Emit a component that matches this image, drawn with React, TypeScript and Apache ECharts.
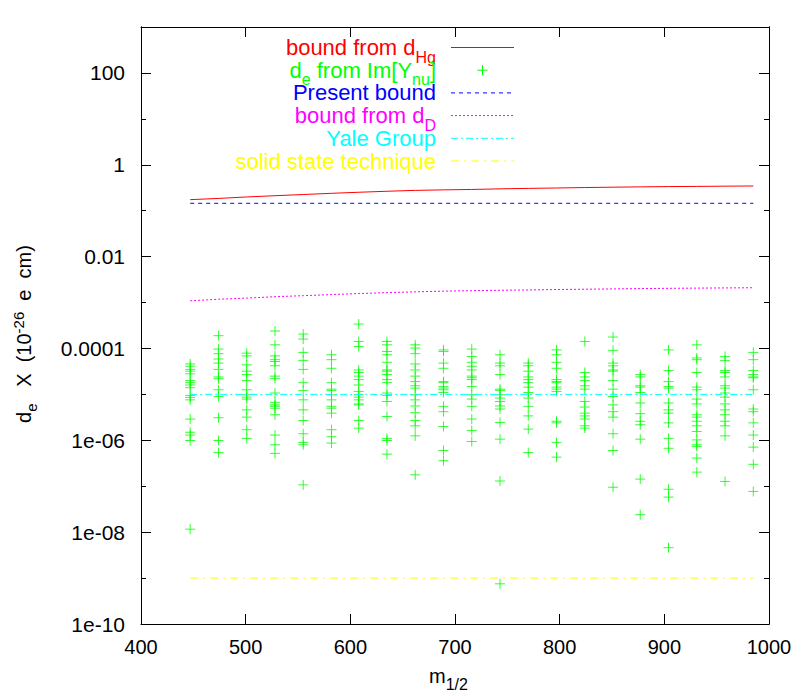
import React, { useEffect, useRef } from "react";
import * as echarts from "echarts";

// ---------- data ----------
const mHalf = [447, 474, 501, 528, 555, 582, 608, 635, 662, 689, 716, 743, 770, 797, 824, 851, 877, 904, 931, 958, 985];

const boundFromDHg = [0.174, 0.185, 0.199, 0.212, 0.225, 0.239, 0.252, 0.265, 0.277, 0.284, 0.29, 0.299, 0.306, 0.312, 0.319, 0.325, 0.33, 0.335, 0.338, 0.342, 0.345];

const boundFromDD = [1.09e-3, 1.18e-3, 1.25e-3, 1.34e-3, 1.41e-3, 1.49e-3, 1.57e-3, 1.64e-3, 1.71e-3, 1.77e-3, 1.81e-3, 1.85e-3, 1.88e-3, 1.92e-3, 1.95e-3, 1.98e-3, 2.01e-3, 2.04e-3, 2.06e-3, 2.08e-3, 2.1e-3];

const presentBound = 0.145;
const yaleGroup = 1e-5;
const solidState = 1e-9;

// d_e from Im[Y_nu], one list per m_1/2 column
const deFromImY: number[][] = [
  [4.6e-5, 4.1e-5, 3.5e-5, 3.2e-5, 2.8e-5, 2.0e-5, 1.8e-5, 1.6e-5, 1.4e-5, 9.5e-6, 8.6e-6, 7.6e-6, 2.9e-6, 1.5e-6, 1.3e-6, 9.9e-7, 1.16e-8],
  [1.9e-4, 9.7e-5, 7.7e-5, 5.9e-5, 4.8e-5, 3.5e-5, 2.4e-5, 2.2e-5, 1.26e-5, 9.0e-6, 3.1e-6, 9.9e-7, 5.4e-7],
  [7.9e-5, 6.9e-5, 4.4e-5, 3.2e-5, 2.7e-5, 2.0e-5, 1.26e-5, 9.8e-6, 8.7e-6, 7.9e-6, 4.6e-6, 3.2e-6, 1.7e-6, 1.1e-6],
  [2.4e-4, 1.2e-4, 6.9e-5, 5.7e-5, 5.2e-5, 4.2e-5, 2.5e-5, 2.2e-5, 1.07e-5, 6.7e-6, 5.9e-6, 5.5e-6, 5.0e-6, 3.6e-6, 1.3e-6, 8.0e-7, 5.2e-7],
  [2.06e-4, 1.6e-4, 8.2e-5, 5.5e-5, 3.5e-5, 1.8e-5, 1.22e-5, 7.6e-6, 4.6e-6, 2.7e-6, 1.39e-6, 9.0e-7, 8.0e-7, 1.07e-7],
  [7.3e-5, 5.7e-5, 3.7e-5, 1.8e-5, 1.3e-5, 1.22e-5, 9.8e-6, 7.6e-6, 5.5e-6, 5.0e-6, 3.9e-6, 1.7e-6, 1.2e-6, 8.7e-7],
  [3.4e-4, 1.42e-4, 1.1e-4, 3.4e-5, 3.0e-5, 2.5e-5, 2.1e-5, 1.6e-5, 1.16e-5, 9.8e-6, 8.7e-6, 7.6e-6, 6.2e-6, 5.9e-6, 2.7e-6, 1.84e-6],
  [1.42e-4, 1.2e-4, 8.6e-5, 7.3e-5, 5.0e-5, 3.4e-5, 3.2e-5, 2.7e-5, 2.1e-5, 1.8e-5, 1.07e-5, 9.5e-6, 7.0e-6, 3.3e-6, 1.1e-6, 9.9e-7, 5.0e-7],
  [1.2e-4, 1.02e-4, 7.7e-5, 4.6e-5, 3.4e-5, 2.5e-5, 1.9e-5, 1.54e-5, 1.37e-5, 9.8e-6, 7.6e-6, 5.6e-6, 4.0e-6, 2.7e-6, 2.07e-6, 1.25e-6, 1.77e-7],
  [9.3e-5, 8.6e-5, 4.8e-5, 3.7e-5, 1.9e-5, 1.8e-5, 1.49e-5, 1.37e-5, 1.26e-5, 1.1e-5, 5.5e-6, 4.2e-6, 2.0e-6, 6.0e-7, 3.6e-7],
  [9.7e-5, 6.7e-5, 5.0e-5, 4.1e-5, 3.4e-5, 2.5e-5, 2.3e-5, 2.1e-5, 1.49e-5, 9.8e-6, 7.9e-6, 5.5e-6, 2.9e-6, 1.64e-6, 9.4e-7],
  [7.3e-5, 4.8e-5, 4.2e-5, 2.7e-5, 1.3e-5, 1.22e-5, 9.8e-6, 8.3e-6, 7.0e-6, 5.6e-6, 4.8e-6, 2.45e-6, 1.06e-6, 1.3e-7, 7.5e-10],
  [4.8e-5, 4.2e-5, 3.2e-5, 2.4e-5, 2.1e-5, 1.8e-5, 1.44e-5, 1.1e-5, 8.3e-6, 5.5e-6, 3.4e-6, 1.75e-6, 5.4e-7],
  [9.3e-5, 7.3e-5, 5.0e-5, 3.7e-5, 2.1e-5, 1.9e-5, 1.8e-5, 1.44e-5, 1.3e-5, 1.16e-5, 2.6e-6, 2.4e-6, 9.0e-7, 4.3e-7],
  [1.42e-4, 3.0e-5, 2.4e-5, 2.0e-5, 1.54e-5, 1.3e-5, 7.0e-6, 5.3e-6, 3.9e-6, 3.4e-6, 2.9e-6, 2.07e-6, 1.84e-6],
  [1.77e-4, 9.1e-5, 4.8e-5, 4.2e-5, 3.4e-5, 3.2e-5, 2.0e-5, 1.3e-5, 9.0e-6, 5.9e-6, 4.2e-6, 3.2e-6, 1.39e-6, 6.0e-7, 9.5e-8],
  [2.7e-5, 2.4e-5, 1.54e-5, 1.44e-5, 1.1e-5, 6.5e-6, 3.8e-6, 2.6e-6, 2.18e-6, 1.06e-6, 1.43e-7, 2.4e-8],
  [9.3e-5, 3.3e-5, 1.9e-5, 1.49e-5, 1.37e-5, 6.5e-6, 4.6e-6, 3.9e-6, 2.4e-6, 1.1e-6, 6.7e-7, 8.6e-8, 5.8e-8, 4.6e-9],
  [1.2e-4, 6.2e-5, 5.7e-5, 3.0e-5, 1.44e-5, 1.26e-5, 7.9e-6, 6.2e-6, 3.6e-6, 3.2e-6, 2.6e-6, 2.07e-6, 1.56e-6, 1.02e-6, 8.0e-7, 7.3e-7, 4.1e-7, 2.03e-7],
  [6.7e-5, 5.5e-5, 3.3e-5, 3.0e-5, 2.4e-5, 1.54e-5, 1.37e-5, 1.07e-5, 8.7e-6, 6.2e-6, 4.6e-6, 3.6e-6, 2.6e-6, 2.07e-6, 1.25e-6, 1.27e-7],
  [8.2e-5, 5.7e-5, 3.3e-5, 2.7e-5, 2.4e-5, 2.3e-5, 1.26e-5, 4.8e-6, 4.2e-6, 2.4e-6, 1.3e-6, 7.1e-7, 3.0e-7, 7.7e-8],
];

const yTickExponents = [-10, -8, -6, -4, -2, 0, 2];
const yTickLabels = ["1e-10", "1e-08", "1e-06", "0.0001", "0.01", "1", "100"];

const seriesNames = [
  "bound from d_Hg",
  "d_e from Im[Y_nu]",
  "Present bound",
  "bound from d_D",
  "Yale Group",
  "solid state technique",
];
const legendTexts = [
  "{m|bound from d}{s|Hg}",
  "{m|d}{s|e}{m| from Im[Y}{s|nu}{m|]}",
  "{m|Present bound}",
  "{m|bound from d}{s|D}",
  "{m|Yale Group}",
  "{m|solid state technique}",
];
const colors = ["#ff0000", "#00ff00", "#0000ff", "#ff00ff", "#00ffff", "#ffff00"];
const dashes: (number[] | null)[] = [null, null, [4, 4], [2, 2], [7, 3, 2, 3], [8, 5, 2, 5]];

// ---------- styling ----------
const FONT = "'Liberation Sans', Arial, Helvetica, sans-serif";
const W = 807;
const H = 692;
const GRID = { left: 141, right: 38, top: 27, bottom: 68 };
const LEG_TEXT_X = 436;
const LEG_LINE_X1 = 451;
const LEG_LINE_X2 = 514;
const LEG_Y0 = 47.5;
const LEG_DY = 22.7;

function yLabel(v: number): string {
  const e = Math.round(Math.log10(v));
  const i = yTickExponents.indexOf(e);
  return i >= 0 ? yTickLabels[i] : "";
}

function xLabel(v: number): string {
  return String(Math.round(v));
}

function buildOption() {
  const flatPoints: number[][] = [];
  deFromImY.forEach((col, i) => col.forEach((v) => flatPoints.push([mHalf[i], v])));
  const first = mHalf[0];
  const last = mHalf[mHalf.length - 1];

  const logAxisBase = {
    type: "log" as const,
    logBase: 10,
    min: 1e-10,
    max: 1000,
    splitLine: { show: false },
    minorTick: { show: false },
    axisLine: { show: true, lineStyle: { color: "#000", width: 1 } },
  };
  const xAxisBase = {
    type: "value" as const,
    min: 400,
    max: 1000,
    interval: 100,
    splitLine: { show: false },
    axisLine: { show: true, onZero: false, lineStyle: { color: "#000", width: 1 } },
    axisTick: { show: true, inside: true, length: 10, lineStyle: { color: "#000", width: 1 } },
  };

  const lineSeries = (idx: number, data: number[][]) => ({
    name: seriesNames[idx],
    type: "line",
    data,
    symbol: "none",
    showSymbol: false,
    silent: true,
    lineStyle: { color: colors[idx], width: 1, type: dashes[idx] ?? "solid" },
    itemStyle: { color: colors[idx] },
    xAxisIndex: 0,
    yAxisIndex: 0,
  });

  const graphic: any[] = [];
  legendTexts.forEach((t, i) => {
    const y = LEG_Y0 + i * LEG_DY;
    graphic.push({
      type: "text",
      x: LEG_TEXT_X,
      y,
      silent: true,
      style: {
        text: t,
        align: "right",
        verticalAlign: "middle",
        textAlign: "right",
        textVerticalAlign: "middle",
        fill: colors[i],
        fontSize: 22,
        fontFamily: FONT,
        rich: {
          m: { fontSize: 22, fontFamily: FONT, fill: colors[i], verticalAlign: "middle" },
          s: { fontSize: 16, fontFamily: FONT, fill: colors[i], verticalAlign: "middle", padding: [19, 0, 0, 0] },
        },
      },
    });
    if (i === 1) {
      const cx = (LEG_LINE_X1 + LEG_LINE_X2) / 2;
      graphic.push({ type: "line", silent: true, shape: { x1: cx - 5, y1: y, x2: cx + 5, y2: y }, style: { stroke: colors[i], lineWidth: 1 } });
      graphic.push({ type: "line", silent: true, shape: { x1: cx, y1: y - 5, x2: cx, y2: y + 5 }, style: { stroke: colors[i], lineWidth: 1 } });
    } else {
      graphic.push({
        type: "line",
        silent: true,
        shape: { x1: LEG_LINE_X1, y1: y, x2: LEG_LINE_X2, y2: y },
        style: { stroke: colors[i], lineWidth: 1, lineDash: dashes[i] ?? undefined },
      });
    }
  });

  // axis titles
  graphic.push({
    type: "text",
    x: 24,
    y: 334,
    rotation: Math.PI / 2,
    silent: true,
    style: {
      text: "{m|d}{s|e}{m|   X  (10}{p|-26}{m|  e  cm)}",
      align: "center",
      verticalAlign: "middle",
      textAlign: "center",
      textVerticalAlign: "middle",
      fill: "#000",
      fontSize: 20,
      fontFamily: FONT,
      rich: {
        m: { fontSize: 20, fontFamily: FONT, fill: "#000", verticalAlign: "middle" },
        s: { fontSize: 15, fontFamily: FONT, fill: "#000", verticalAlign: "middle", padding: [15, 0, 0, 0] },
        p: { fontSize: 15, fontFamily: FONT, fill: "#000", verticalAlign: "middle", padding: [0, 0, 12, 0] },
      },
    },
  });
  graphic.push({
    type: "text",
    x: 429,
    y: 676,
    silent: true,
    style: {
      text: "{m|m}{s|1/2}",
      align: "left",
      verticalAlign: "middle",
      textAlign: "left",
      textVerticalAlign: "middle",
      fill: "#000",
      fontSize: 20,
      fontFamily: FONT,
      rich: {
        m: { fontSize: 20, fontFamily: FONT, fill: "#000", verticalAlign: "middle" },
        s: { fontSize: 16, fontFamily: FONT, fill: "#000", verticalAlign: "middle", padding: [16, 0, 0, 0] },
      },
    },
  });

  return {
    animation: false,
    backgroundColor: "#ffffff",
    textStyle: { fontFamily: FONT },
    grid: { ...GRID, containLabel: false },
    xAxis: [
      {
        ...xAxisBase,
        position: "bottom",
        axisLabel: { show: true, margin: 13, fontSize: 20, color: "#000", fontFamily: FONT, formatter: xLabel },
      },
      {
        ...xAxisBase,
        position: "top",
        axisLabel: { show: false },
      },
    ],
    yAxis: [
      {
        ...logAxisBase,
        interval: 2,
        position: "left",
        axisTick: { show: true, inside: true, length: 10, lineStyle: { color: "#000", width: 1 } },
        axisLabel: { show: true, margin: 16, fontSize: 21, color: "#000", fontFamily: FONT, formatter: yLabel, showMaxLabel: false },
      },
      {
        ...logAxisBase,
        interval: 1,
        position: "left",
        axisTick: { show: true, inside: true, length: 5, lineStyle: { color: "#000", width: 1 } },
        axisLabel: { show: false },
      },
      {
        ...logAxisBase,
        interval: 2,
        position: "right",
        axisTick: { show: true, inside: true, length: 10, lineStyle: { color: "#000", width: 1 } },
        axisLabel: { show: false },
      },
      {
        ...logAxisBase,
        interval: 1,
        position: "right",
        axisTick: { show: true, inside: true, length: 5, lineStyle: { color: "#000", width: 1 } },
        axisLabel: { show: false },
      },
    ],
    series: [
      lineSeries(0, mHalf.map((m, i) => [m, boundFromDHg[i]])),
      {
        name: seriesNames[1],
        type: "scatter",
        data: flatPoints,
        symbol: "path://M0,5L10,5M5,0L5,10",
        symbolSize: 10,
        silent: true,
        itemStyle: { color: "transparent", borderColor: colors[1], borderWidth: 1 },
        xAxisIndex: 0,
        yAxisIndex: 0,
      },
      lineSeries(2, [[first, presentBound], [last, presentBound]]),
      lineSeries(3, mHalf.map((m, i) => [m, boundFromDD[i]])),
      lineSeries(4, [[first, yaleGroup], [last, yaleGroup]]),
      lineSeries(5, [[first, solidState], [last, solidState]]),
    ],
    graphic,
  };
}

export default function App() {
  const ref = useRef<HTMLDivElement>(null);
  useEffect(() => {
    if (!ref.current) return;
    const chart = echarts.init(ref.current, null, { renderer: "svg" });
    chart.setOption(buildOption() as any);
    return () => chart.dispose();
  }, []);
  return (
    <div
      ref={ref}
      style={{ position: "fixed", left: 0, top: 0, width: W, height: H, background: "#ffffff" }}
    />
  );
}
